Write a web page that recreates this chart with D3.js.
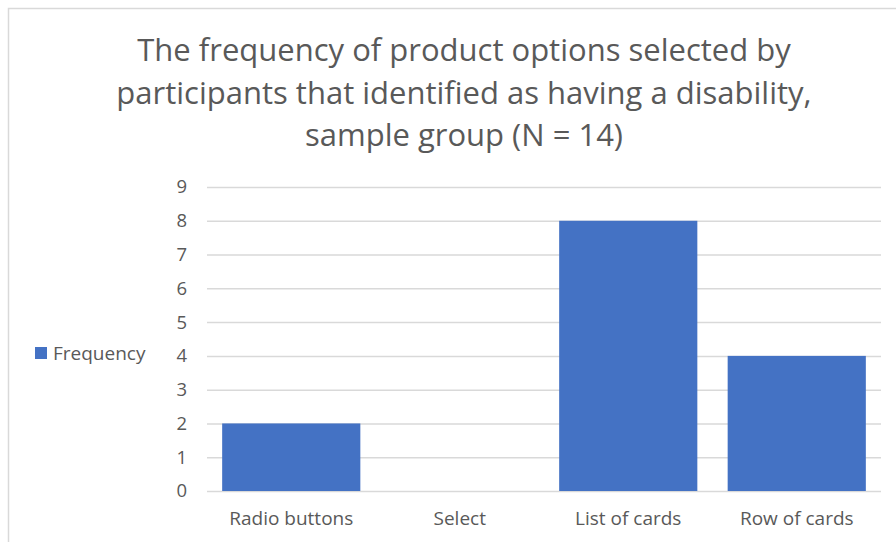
<!DOCTYPE html>
<html>
<head>
<meta charset="utf-8">
<script src="https://cdn.jsdelivr.net/npm/d3@7"></script>
<style>
  body { margin: 0; background: #fff; }
  svg { display: block; }
</style>
</head>
<body>
<div class="bar-chart"></div>
<script>
const categories = ["Radio buttons", "Select", "List of cards", "Row of cards"]
const frequency = [2, 0, 8, 4]
const yTicks = [0, 1, 2, 3, 4, 5, 6, 7, 8, 9]
const titleLines = [
    "The frequency of product options selected by",
    "participants that identified as having a disability,",
    "sample group (N = 14)"
]
const seriesName = "Frequency"

const W = 896, H = 542
const margin = ({top: 187, right: 15, bottom: 51, left: 207})
const width = W - margin.left - margin.right
const height = H - margin.top - margin.bottom

const textColor = "#595959"
const barColor = "#4472C4"
const gridColor = "#d9d9d9"
const font = "'Open Sans', sans-serif"

const svg = d3.select(".bar-chart")
    .append("svg")
    .attr("width", W)
    .attr("height", H)

// chart area border (cropped at right and bottom)
svg.append("path")
    .attr("d", `M8.5,${H} V8.5 H${W}`)
    .attr("fill", "none")
    .attr("stroke", "#d9d9d9")
    .attr("stroke-width", 1.5)

svg.append("text")
    .attr("x", 464)
    .attr("y", 61)
    .attr("text-anchor", "middle")
    .attr("font-family", font)
    .attr("font-size", 31)
    .attr("fill", textColor)
    .selectAll("tspan")
    .data(titleLines)
    .join("tspan")
    .attr("x", 464)
    .attr("dy", (d, i) => i === 0 ? 0 : 42.5)
    .text(d => d)

const g = svg.append("g")
    .attr("transform", `translate(${margin.left},${margin.top})`)

const xScale = d3.scaleBand()
    .domain(categories)
    .range([0, width])
    .paddingInner(0.18)
    .paddingOuter(0.09)

const yScale = d3.scaleLinear()
    .domain([0, 9])
    .range([height, 0])

const yAxis = d3.axisLeft(yScale)
    .tickValues(yTicks)
    .tickSize(0)
    .tickPadding(20)

const xAxis = d3.axisBottom(xScale)
    .tickSize(0)
    .tickPadding(21)

const yAxisGroup = g.append("g")
    .attr("class", "axis y-axis")
    .call(yAxis)

yAxisGroup.select(".domain").remove()

yAxisGroup.selectAll(".tick line")
    .clone()
    .attr("class", "grid")
    .attr("x2", width)
    .attr("stroke", gridColor)
    .attr("stroke-width", 1.5)

yAxisGroup.selectAll("text")
    .attr("font-family", font)
    .attr("font-size", 18.5)
    .attr("fill", textColor)

g.selectAll(".bar")
    .data(frequency)
    .join("rect")
    .attr("class", "bar")
    .attr("x", (d, i) => xScale(categories[i]))
    .attr("y", d => yScale(d))
    .attr("width", xScale.bandwidth())
    .attr("height", d => yScale(0) - yScale(d))
    .attr("fill", barColor)

const xAxisGroup = g.append("g")
    .attr("class", "axis x-axis")
    .attr("transform", `translate(0,${height})`)
    .call(xAxis)

xAxisGroup.select(".domain").remove()

xAxisGroup.selectAll("text")
    .attr("font-family", font)
    .attr("font-size", 19)
    .attr("fill", textColor)

// legend
const legend = svg.append("g")
    .attr("transform", "translate(35,347)")

legend.append("rect")
    .attr("width", 12)
    .attr("height", 12)
    .attr("fill", barColor)

legend.append("text")
    .attr("x", 18)
    .attr("y", 6)
    .attr("dy", "0.35em")
    .attr("font-family", font)
    .attr("font-size", 19)
    .attr("fill", textColor)
    .text(seriesName)
</script>
</body>
</html>
